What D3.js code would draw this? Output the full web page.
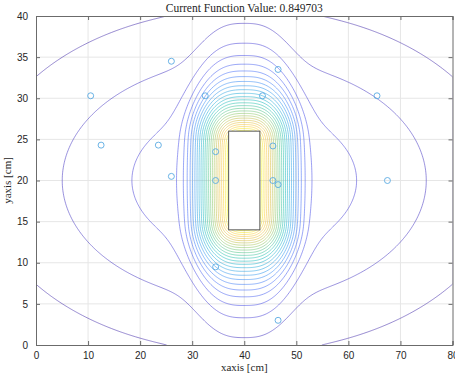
<!DOCTYPE html>
<html>
<head>
<meta charset="utf-8">
<script src="https://cdn.jsdelivr.net/npm/d3@7"></script>
<style>
  body { margin: 0; background: #fff; }
  svg { display: block; }
  .tick text { font-family: "Liberation Sans", Arial, sans-serif; font-size: 10px; fill: #262626; }
</style>
</head>
<body>
<div id="chart"></div>
<script>
// ---- data ----
var title = "Current Function Value: 0.849703";
var xTicks = [0, 10, 20, 30, 40, 50, 60, 70, 80];
var yTicks = [0, 5, 10, 15, 20, 25, 30, 35, 40];

// sensor markers
var markerX = [10.5, 12.5, 23.5, 26, 26, 32.5, 34.5, 34.5, 34.5, 43.5, 46.5, 45.5, 45.5, 46.5, 65.5, 67.5, 46.5];
var markerY = [30.3, 24.3, 24.3, 34.5, 20.5, 30.3, 23.5, 20, 9.5, 30.3, 33.5, 24.2, 20, 19.5, 30.3, 20, 3];

// object (rectangle) [x0, x1, y0, y1]
var rectBox = [37, 43, 14, 26];

// contour levels
var levels = [1, 2, 3, 4, 5, 6, 7, 8, 9, 10, 11, 12, 13,
              14, 15, 16, 17, 18, 19, 20, 21, 22, 23, 24, 25, 26];

// field model: near part round the object + broad far part
var nearSlope = 2.8, nearSoft = 1.05, nearReach = 8.2, shapeP = 2.8;
var vertMax = 11.42, vertLen = 7.36;
var farAmp = 3.85, farSx = 43.2, farSy = 18;

function field(x, y) {
  var hw = (rectBox[1] - rectBox[0]) / 2, hh = (rectBox[3] - rectBox[2]) / 2;
  var cx = (rectBox[0] + rectBox[1]) / 2, cy = (rectBox[2] + rectBox[3]) / 2;
  var ax = Math.abs(x - cx), ay = Math.abs(y - cy);
  // map height onto an equivalent sideways distance
  var q = vertMax / vertLen * hh / hw;
  var hy = ay <= hh
    ? hw * Math.pow(ay / hh, q)
    : hw + vertMax * (1 - Math.exp(-(ay - hh) / vertLen));
  var r = Math.pow(Math.pow(ax, shapeP) + Math.pow(hy, shapeP), 1 / shapeP);
  var d = r - hw;
  var near = nearSlope * nearSoft * Math.log(1 + Math.exp((nearReach - d) / nearSoft));
  var fx = (x - cx) / farSx, fy = (y - cy) / farSy;
  return near + farAmp * Math.exp(-(fx * fx + fy * fy));
}

var parula = ["#3e26a8", "#4743e1", "#3e69f8", "#2c8ef2", "#1da9d8", "#11bcb2",
              "#4cc386", "#98c55a", "#d8ba3b", "#fcc637", "#f9fb0e"];

// ---- layout ----
var W = 455, H = 380;
var margin = {left: 36, right: 2.5, top: 16, bottom: 35};

var svg = d3.select("#chart").append("svg")
  .attr("width", W)
  .attr("height", H);

var x = d3.scaleLinear().domain([0, 80]).range([margin.left, W - margin.right]);
var y = d3.scaleLinear().domain([0, 40]).range([H - margin.bottom, margin.top]);

var lo = levels[0], hi = levels[levels.length - 1];
var colour = d3.scaleLinear()
  .domain(parula.map(function(d, i) { return lo + i * (hi - lo) / (parula.length - 1); }))
  .range(parula);

// grid lines
svg.append("g").selectAll("line").data(xTicks.slice(1, -1)).enter().append("line")
  .attr("x1", function(d) { return x(d); }).attr("x2", function(d) { return x(d); })
  .attr("y1", y(0)).attr("y2", y(40))
  .attr("stroke", "#e6e6e6").attr("stroke-width", 1);
svg.append("g").selectAll("line").data(yTicks.slice(1, -1)).enter().append("line")
  .attr("y1", function(d) { return y(d); }).attr("y2", function(d) { return y(d); })
  .attr("x1", x(0)).attr("x2", x(80))
  .attr("stroke", "#e6e6e6").attr("stroke-width", 1);

// contours
var step = 0.2;
var nx = Math.round(80 / step) + 1, ny = Math.round(40 / step) + 1;
var values = new Array(nx * ny);
for (var j = 0; j < ny; j++) {
  for (var i = 0; i < nx; i++) {
    values[j * nx + i] = field(i * step, j * step);
  }
}

var contours = d3.contours().size([nx, ny]).smooth(true).thresholds(levels)(values);

var proj = d3.geoTransform({
  point: function(px, py) {
    this.stream.point(x((px - 0.5) * step), y((py - 0.5) * step));
  }
});
var path = d3.geoPath(proj);

svg.append("clipPath").attr("id", "clip").append("rect")
  .attr("x", x(0)).attr("y", y(40))
  .attr("width", x(80) - x(0)).attr("height", y(0) - y(40));

svg.append("g")
  .attr("clip-path", "url(#clip)")
  .selectAll("path")
  .data(contours)
  .enter().append("path")
  .attr("d", path)
  .attr("fill", "none")
  .attr("stroke", function(d) { return colour(d.value); })
  .attr("stroke-opacity", 0.6)
  .attr("stroke-width", 0.9);

// object
svg.append("rect")
  .attr("x", x(rectBox[0]))
  .attr("y", y(rectBox[3]))
  .attr("width", x(rectBox[1]) - x(rectBox[0]))
  .attr("height", y(rectBox[2]) - y(rectBox[3]))
  .attr("fill", "#fff")
  .attr("stroke", "#555")
  .attr("stroke-width", 1);

// markers
svg.append("g").selectAll("circle")
  .data(markerX)
  .enter().append("circle")
  .attr("cx", function(d) { return x(d); })
  .attr("cy", function(d, i) { return y(markerY[i]); })
  .attr("r", 3)
  .attr("fill", "none")
  .attr("stroke", "#5aaae2")
  .attr("stroke-width", 0.9);

// axes
var xAxis = d3.axisBottom(x).tickValues(xTicks).tickSize(-4).tickPadding(7);
var yAxis = d3.axisLeft(y).tickValues(yTicks).tickSize(-4).tickPadding(8);

svg.append("g").attr("transform", "translate(0," + y(0) + ")").call(xAxis);
svg.append("g").attr("transform", "translate(" + x(0) + ",0)").call(yAxis);
svg.append("g").attr("transform", "translate(0," + y(40) + ")")
  .call(d3.axisTop(x).tickValues(xTicks).tickSize(-4).tickFormat(""));
svg.append("g").attr("transform", "translate(" + x(80) + ",0)")
  .call(d3.axisRight(y).tickValues(yTicks).tickSize(-4).tickFormat(""));

svg.selectAll(".domain").attr("stroke", "#6b6b6b").attr("stroke-width", 1);
svg.selectAll(".tick line").attr("stroke", "#6b6b6b");

// labels
svg.append("text")
  .attr("x", x(40)).attr("y", 12)
  .attr("text-anchor", "middle")
  .style("font-family", "'Liberation Serif', 'DejaVu Serif', serif")
  .style("font-size", "11.5px")
  .attr("fill", "#262626")
  .text(title);

svg.append("text")
  .attr("x", x(40)).attr("y", H - 9)
  .attr("text-anchor", "middle")
  .style("font-family", "'Liberation Serif', 'DejaVu Serif', serif")
  .style("font-size", "11px")
  .attr("fill", "#262626")
  .text("xaxis [cm]");

svg.append("text")
  .attr("transform", "translate(11," + y(20) + ") rotate(-90)")
  .attr("text-anchor", "middle")
  .style("font-family", "'Liberation Serif', 'DejaVu Serif', serif")
  .style("font-size", "11px")
  .attr("fill", "#262626")
  .text("yaxis [cm]");
</script>
</body>
</html>
